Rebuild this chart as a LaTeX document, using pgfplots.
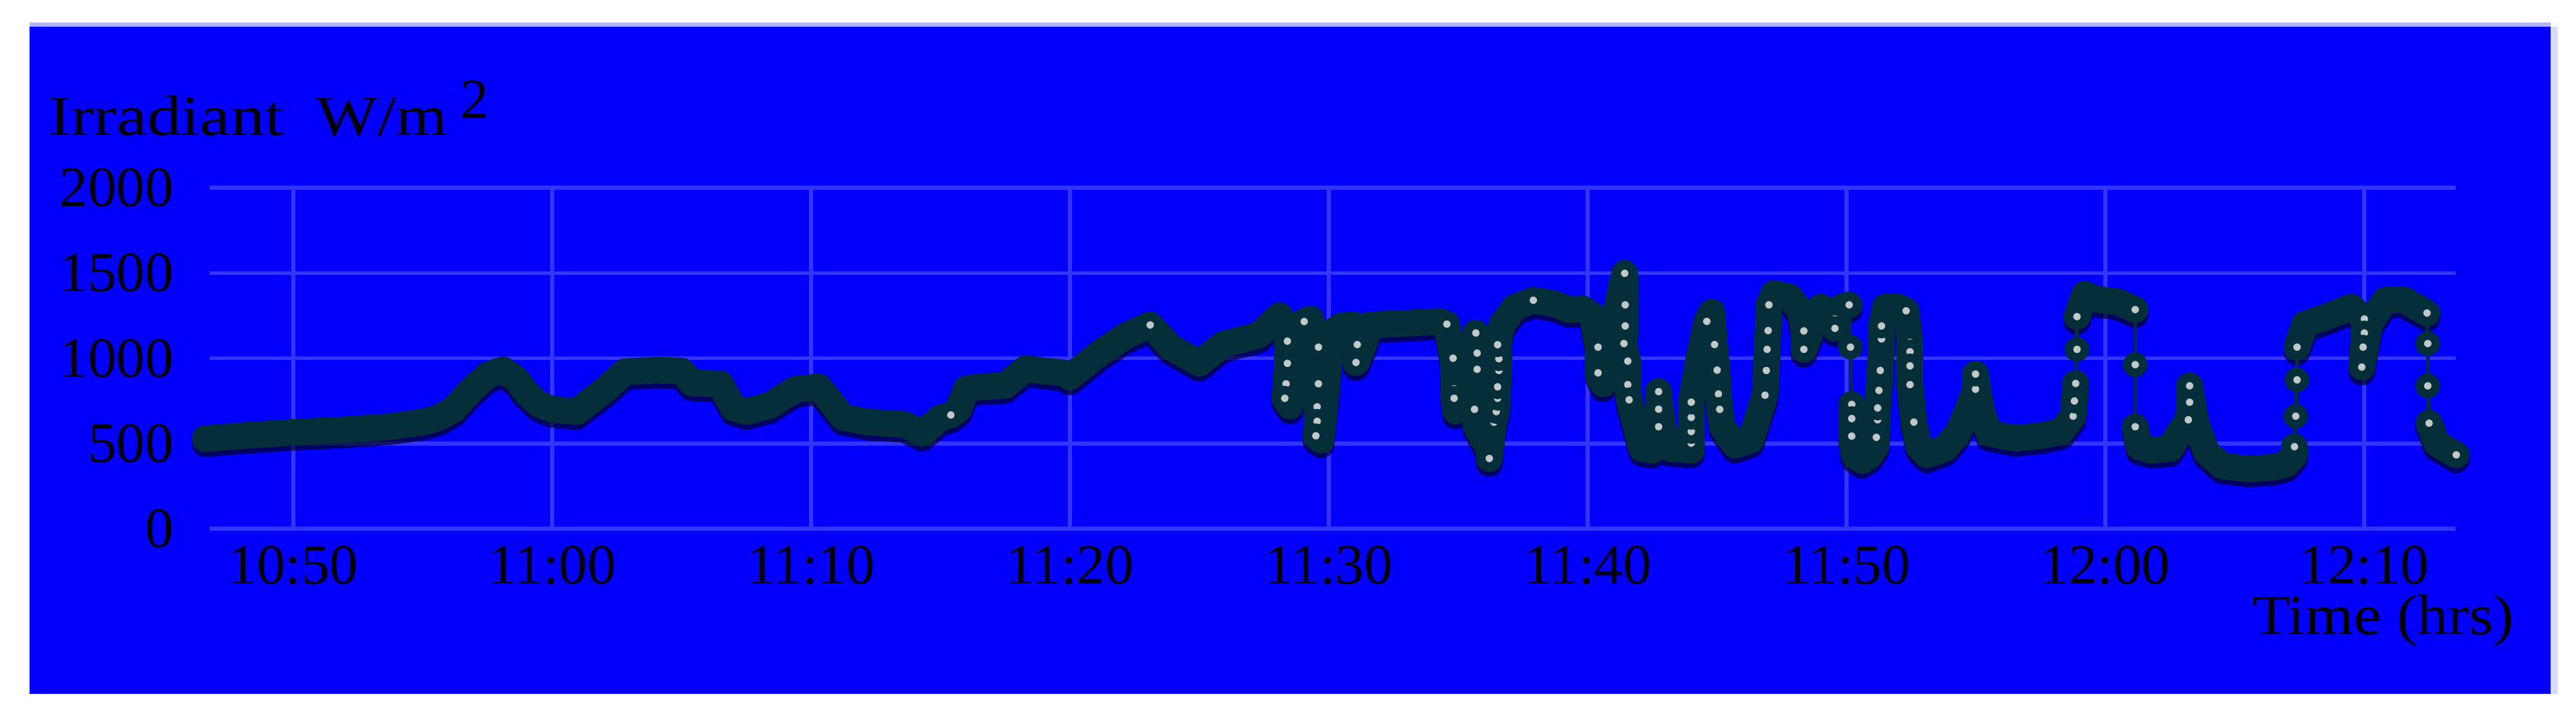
\documentclass[border=0pt]{standalone}
\usepackage{fontspec}
\setmainfont{Liberation Serif}
\usepackage{graphicx}
\usepackage{pgfplots}
\usepackage{pgfplotstable}
\pgfplotsset{compat=1.18}
\definecolor{bgblue}{RGB}{2,0,252}
\definecolor{gridblue}{RGB}{52,52,255}
\definecolor{linecol}{RGB}{4,46,58}
\definecolor{dotfill}{RGB}{192,200,200}
\definecolor{lav}{RGB}{178,182,248}
\definecolor{paleedge}{RGB}{215,218,252}

\pgfplotstableread{
t v d
46.6 528 nan
48.0 545 nan
50.0 565 nan
52.0 580 nan
53.7 598 nan
55.0 625 nan
55.6 650 nan
56.2 700 nan
56.85 810 nan
57.5 900 nan
58.1 932 nan
58.6 880 nan
59.0 800 nan
59.5 730 nan
60.0 700 nan
60.95 687 nan
62.07 818 nan
62.8 920 nan
64.0 930 nan
65.0 925 nan
65.4 855 nan
66.5 850 nan
67.0 710 nan
67.5 687 nan
68.4 722 nan
69.4 818 nan
70.3 832 nan
71.24 653 nan
72.2 625 nan
73.6 612 nan
74.3 560 nan
75.0 650 nan
75.4 667 667
75.7 700 nan
76.0 820 nan
76.5 832 nan
77.5 840 nan
78.3 940 nan
79.0 925 nan
79.7 915 nan
80.0 890 nan
81.2 1035 nan
82.2 1135 nan
83.1 1195 1195
83.9 1065 nan
85.0 970 nan
85.9 1080 nan
87.3 1135 nan
88.1 1250 nan
88.3 1200 nan
88.4 1100 1100
88.4 970 970
88.35 850 850
88.3 765 765
88.5 720 nan
88.8 950 nan
89.05 1215 1215
89.3 1230 nan
89.6 1065 1065
89.6 850 850
89.55 715 715
89.55 630 630
89.5 545 545
89.7 520 nan
89.9 800 nan
90.1 1150 nan
90.5 1190 nan
91.0 1195 nan
91.1 1080 1080
91.05 975 975
91.3 1060 nan
91.6 1195 nan
93.0 1205 nan
94.3 1215 nan
94.56 1200 1200
94.8 1000 1000
94.84 820 820
94.84 765 765
94.9 690 nan
95.3 900 nan
95.68 1148 1148
95.73 1030 1030
95.73 935 935
95.63 700 700
95.7 600 nan
96.0 520 nan
96.2 460 460
96.2 412 412
96.3 560 nan
96.38 625 625
96.47 687 687
96.52 765 765
96.52 832 832
96.57 928 928
96.57 997 997
96.52 1079 1079
96.7 1200 nan
97.2 1300 nan
97.9 1340 1340
98.7 1320 nan
99.3 1285 nan
99.8 1290 nan
100.2 1250 nan
100.4 1065 1065
100.4 914 914
100.6 850 nan
101.0 1200 nan
101.43 1498 1498
101.45 1313 1313
101.45 1189 1189
101.4 1086 1086
101.55 983 983
101.55 845 845
101.6 756 756
101.8 640 nan
102.1 470 nan
102.5 460 nan
102.74 598 598
102.74 701 701
102.74 804 804
102.9 600 nan
103.2 470 nan
103.7 465 nan
104.0 460 460
104.0 502 502
104.0 570 570
104.0 653 653
104.0 742 742
104.3 1000 nan
104.6 1216 1216
104.8 1270 nan
104.9 1080 1080
105.0 930 930
105.05 790 790
105.1 700 700
105.2 600 nan
105.7 490 nan
106.3 520 nan
106.85 783 783
106.9 928 928
106.93 1052 1052
106.97 1162 1162
107.0 1313 1313
107.2 1380 nan
107.8 1360 nan
108.2 1280 nan
108.35 1160 1160
108.35 1052 1052
108.6 1150 nan
109.0 1300 nan
109.55 1230 1230
109.55 1175 1175
109.8 1300 nan
110.1 1313 1313
110.12 nan nan
110.15 1065 1065
110.17 nan nan
110.2 729 729
110.2 646 646
110.2 543 543
110.3 430 nan
110.6 400 nan
110.9 430 nan
111.15 488 488
111.15 536 536
111.2 639 639
111.2 708 708
111.25 811 811
111.3 928 928
111.35 1113 1113
111.35 1189 1189
111.5 1300 nan
112.0 1300 nan
112.3 1278 1278
112.45 1093 1093
112.45 1038 1038
112.45 955 955
112.45 845 845
112.6 625 625
112.8 480 nan
113.1 433 nan
113.8 470 nan
114.3 560 nan
114.7 700 nan
114.98 818 818
114.98 907 907
115.2 700 nan
115.5 560 nan
116.5 530 nan
117.5 545 nan
118.3 570 nan
118.75 660 660
118.8 749 749
118.85 852 852
118.87 nan nan
118.9 1052 1052
118.9 nan nan
118.9 1244 1244
119.2 1375 nan
119.65 1345 nan
120.5 1330 nan
121.15 1285 1285
121.15 nan nan
121.15 962 962
121.15 nan nan
121.15 598 598
121.3 480 nan
121.8 460 nan
122.5 470 nan
122.8 550 nan
123.2 639 639
123.25 742 742
123.25 838 838
123.5 620 nan
123.9 450 nan
124.5 370 nan
125.5 350 nan
126.5 360 nan
127.0 380 nan
127.3 433 433
127.3 481 481
127.32 nan nan
127.35 660 660
127.37 nan nan
127.4 873 873
127.4 nan nan
127.4 1065 1065
127.7 1200 nan
128.5 1240 nan
129.5 1300 nan
130.0 1230 1230
130.0 1148 1148
129.95 1065 1065
129.9 948 948
130.2 1200 nan
130.8 1340 nan
131.5 1345 nan
132.42 1265 1265
132.43 nan nan
132.45 1086 1086
132.45 nan nan
132.45 838 838
132.47 nan nan
132.5 619 619
132.8 500 nan
133.55 433 433
}\irrdata

\begin{document}
\begin{tikzpicture}[x=1pt,y=1pt]
\fill[white] (0,0) rectangle (366.2,102.6);
\fill[lav] (4.2,98.8) rectangle (362.6,99.4);
\fill[paleedge] (362.6,3.9) rectangle (363.6,98.8);
\fill[bgblue] (4.2,3.9) rectangle (362.6,98.8);
\begin{axis}[
  at={(29.8pt,27.4pt)}, anchor=south west,
  width=319.3pt, height=48.5pt, scale only axis,
  xmin=46.77, xmax=133.53, ymin=0, ymax=2000,
  clip=false,
  font=\fontsize{8.1}{9.7}\selectfont,
  axis line style={draw=none},
  major tick length=0pt,
  tick style={draw=none},
  grid=major,
  major grid style={gridblue, line width=0.55pt},
  xtick={50,60,70,80,90,100,110,120,130},
  xticklabels={10:50,11:00,11:10,11:20,11:30,11:40,11:50,12:00,12:10},
  ytick={0,500,1000,1500,2000},
  yticklabels={0,500,1000,1500,2000},
  /pgf/number format/assume math mode=true,
  xticklabel style={anchor=north, inner sep=0pt, yshift=-2.3pt},
  yticklabel style={anchor=east, inner sep=0pt, xshift=-4.9pt},
  every axis x label/.style={at={(rel axis cs:1,0)}, anchor=base east, xshift=8.5pt, yshift=-15pt, inner sep=0pt},
  every axis y label/.style={at={(rel axis cs:0,1)}, anchor=base west, xshift=-23.1pt, yshift=7.5pt, inner sep=0pt},
  xlabel={\scalebox{1.09}[1]{Time (hrs)}},
  ylabel={\scalebox{1.2}[1]{Irradiant}\hspace{4.6pt}\scalebox{1.15}[1]{W/m}\hspace{1.9pt}\raisebox{2.4pt}{2}},
]
\addplot[black, opacity=0.6, line width=3.8pt, line cap=round, line join=round, unbounded coords=jump, yshift=-0.7pt] table[x=t,y=v]{\irrdata};
\addplot[linecol, line width=0.5pt] table[x=t,y=v]{\irrdata};
\addplot[linecol, line width=3.8pt, line cap=round, line join=round, unbounded coords=jump] table[x=t,y=v]{\irrdata};
\addplot[only marks, mark=*, mark size=1.15pt, mark options={fill=dotfill, draw=linecol, line width=1.2pt}] table[x=t,y=d]{\irrdata};
\end{axis}
\pgfresetboundingbox
\path[use as bounding box] (0,0) rectangle (366.2,102.6);
\end{tikzpicture}
\end{document}
